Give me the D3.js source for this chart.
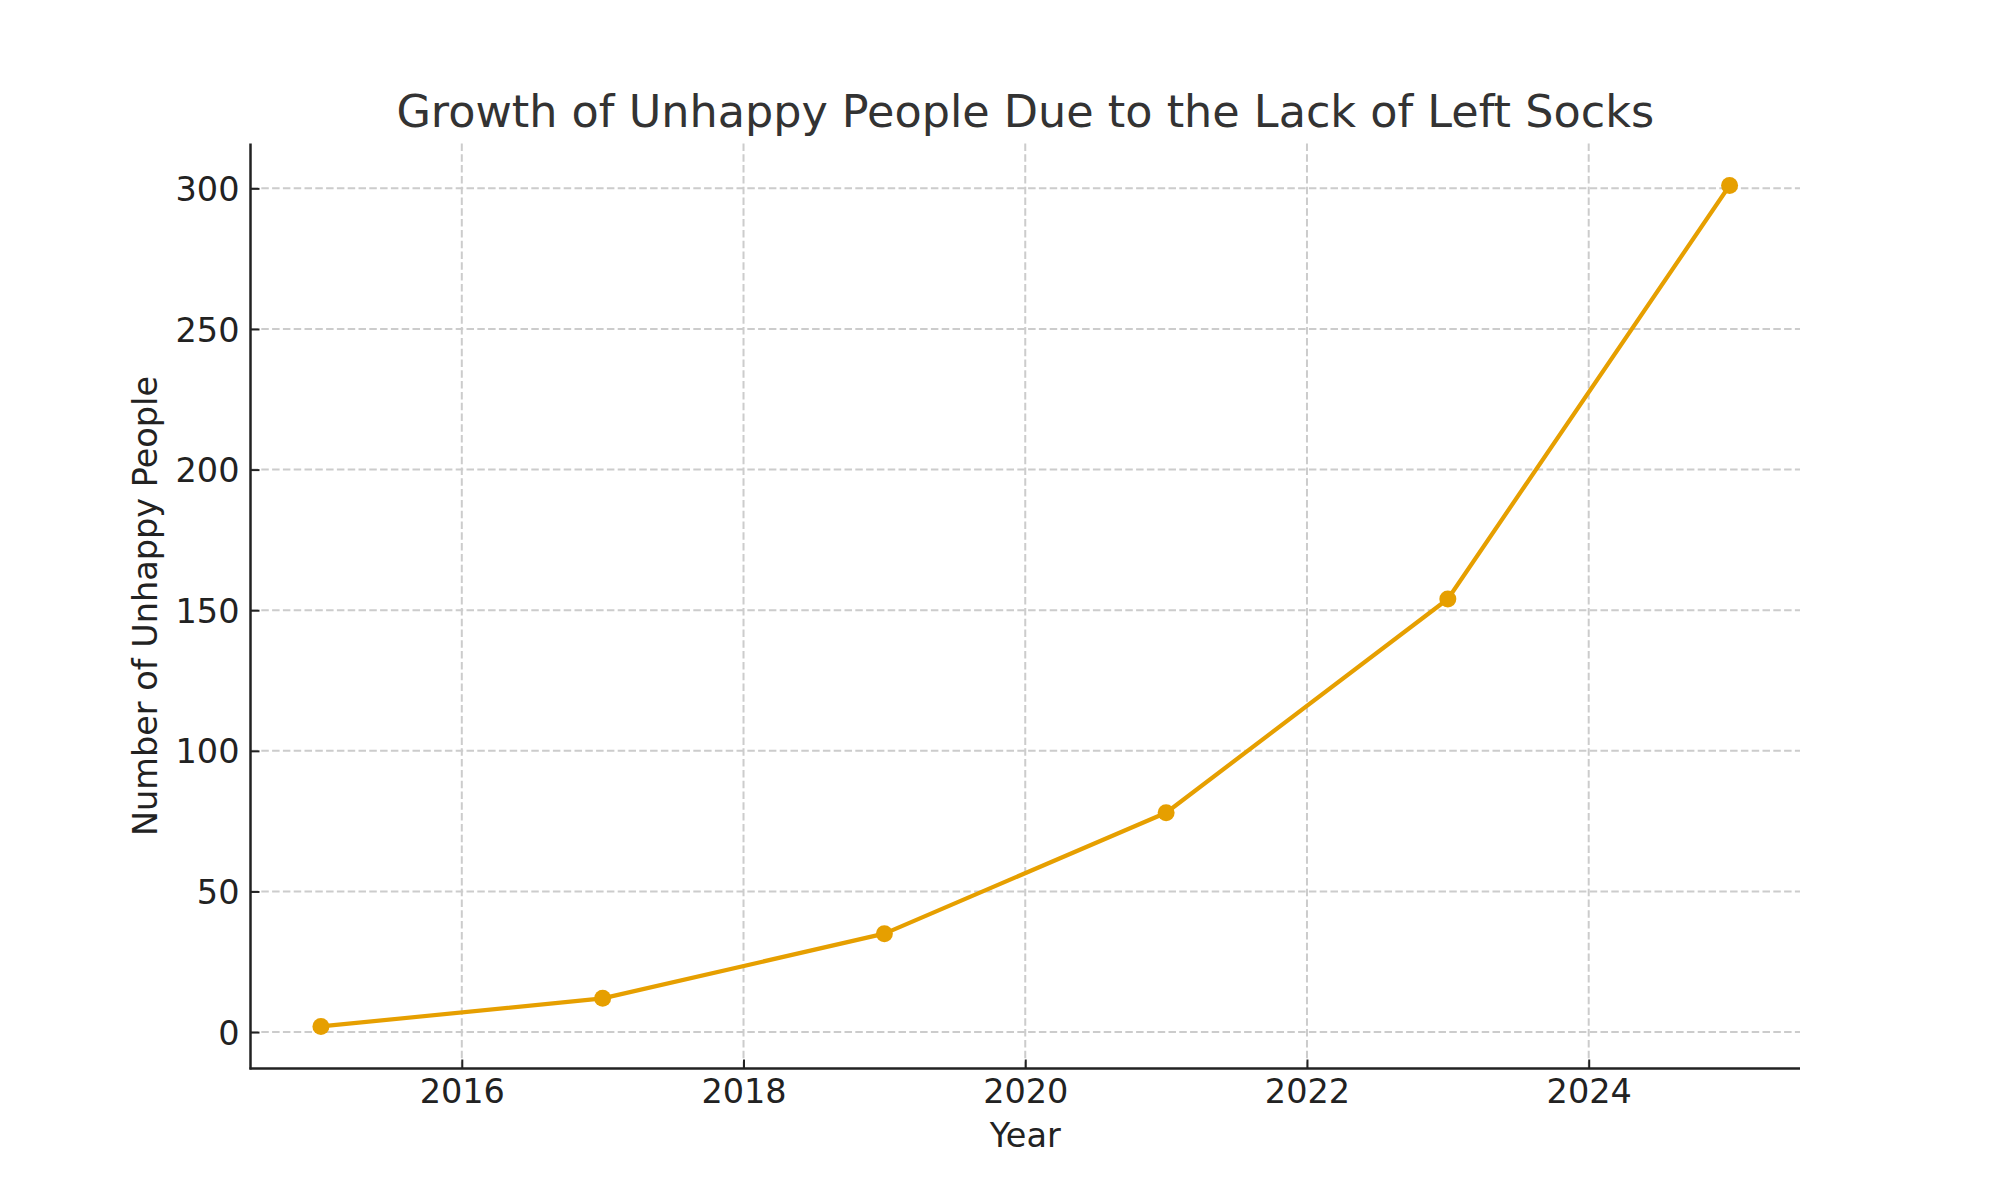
<!DOCTYPE html>
<html>
<head>
<meta charset="utf-8">
<script src="https://cdn.jsdelivr.net/npm/d3@7"></script>
<style>
  body { margin: 0; background: #fff; }
  text { font-family: "DejaVu Sans", sans-serif; }
</style>
</head>
<body>
<div id="chart"></div>
<script>
// data
var years = [2015, 2017, 2019, 2021, 2023, 2025];
var unhappy = [2, 12, 35, 78, 154, 301];
var xTicks = [2016, 2018, 2020, 2022, 2024];
var yTicks = [0, 50, 100, 150, 200, 250, 300];

var svgWidth = 2000;
var svgHeight = 1200;

var margin = { top: 143.5, right: 200, bottom: 131.5, left: 250.5 };
var width = svgWidth - margin.left - margin.right;
var height = svgHeight - margin.top - margin.bottom;

var lineColor = "#E69F00";

var svg = d3.select("#chart")
  .append("svg")
  .attr("width", svgWidth)
  .attr("height", svgHeight);

var chartGroup = svg.append("g")
  .attr("transform", `translate(${margin.left}, ${margin.top})`);

var points = years.map(function(y, i) { return { year: y, value: unhappy[i] }; });

// matplotlib style 5% margins
var xPad = (d3.max(years) - d3.min(years)) * 0.05;
var yPad = (d3.max(unhappy) - d3.min(unhappy)) * 0.05;

var xScale = d3.scaleLinear()
  .domain([d3.min(years) - xPad, d3.max(years) + xPad])
  .range([0, width]);

var yScale = d3.scaleLinear()
  .domain([d3.min(unhappy) - yPad, d3.max(unhappy) + yPad])
  .range([height, 0]);

// grid
chartGroup.append("g").selectAll("line")
  .data(xTicks)
  .enter()
  .append("line")
  .attr("x1", d => xScale(d))
  .attr("x2", d => xScale(d))
  .attr("y1", 0)
  .attr("y2", height)
  .attr("stroke", "#cccccc")
  .attr("stroke-width", 2)
  .attr("stroke-dasharray", "7.5,3.3");

chartGroup.append("g").selectAll("line")
  .data(yTicks)
  .enter()
  .append("line")
  .attr("x1", 0)
  .attr("x2", width)
  .attr("y1", d => yScale(d))
  .attr("y2", d => yScale(d))
  .attr("stroke", "#cccccc")
  .attr("stroke-width", 2)
  .attr("stroke-dasharray", "7.5,3.3");

// line + markers
var line = d3.line()
  .x(d => xScale(d.year))
  .y(d => yScale(d.value));

chartGroup.append("path")
  .datum(points)
  .attr("d", line)
  .attr("fill", "none")
  .attr("stroke", lineColor)
  .attr("stroke-width", 4.2)
  .attr("stroke-linejoin", "round");

chartGroup.selectAll("circle")
  .data(points)
  .enter()
  .append("circle")
  .attr("cx", d => xScale(d.year))
  .attr("cy", d => yScale(d.value))
  .attr("r", 8.5)
  .attr("fill", lineColor);

// axes, ticks point inward
var bottomAxis = d3.axisBottom(xScale)
  .tickValues(xTicks)
  .tickFormat(d3.format("d"))
  .tickSize(-9)
  .tickPadding(11);

var leftAxis = d3.axisLeft(yScale)
  .tickValues(yTicks)
  .tickSize(-9)
  .tickPadding(11);

var xAxisG = chartGroup.append("g")
  .attr("transform", `translate(0, ${height})`)
  .call(bottomAxis);

var yAxisG = chartGroup.append("g")
  .call(leftAxis);

[xAxisG, yAxisG].forEach(function(g) {
  g.select(".domain").remove();
  g.selectAll(".tick line").attr("stroke", "#222").attr("stroke-width", 2);
  g.selectAll(".tick text")
    .attr("fill", "#222")
    .style("font-size", "33.5px")
    .style("font-family", "DejaVu Sans");
});
yAxisG.selectAll(".tick text").attr("dy", "0.36em");

// spines
chartGroup.append("line")
  .attr("x1", 0).attr("x2", 0)
  .attr("y1", 0).attr("y2", height + 1)
  .attr("stroke", "#222").attr("stroke-width", 2.5);

chartGroup.append("line")
  .attr("x1", -1).attr("x2", width)
  .attr("y1", height).attr("y2", height)
  .attr("stroke", "#222").attr("stroke-width", 2.5);

// labels
svg.append("text")
  .attr("x", margin.left + width / 2)
  .attr("y", 127)
  .attr("text-anchor", "middle")
  .style("font-size", "44.5px")
  .style("fill", "#333")
  .text("Growth of Unhappy People Due to the Lack of Left Socks");

svg.append("text")
  .attr("x", margin.left + width / 2)
  .attr("y", 1147)
  .attr("text-anchor", "middle")
  .style("font-size", "33.5px")
  .style("fill", "#222")
  .text("Year");

svg.append("text")
  .attr("transform", `translate(157, ${margin.top + height / 2}) rotate(-90)`)
  .attr("text-anchor", "middle")
  .style("font-size", "33.5px")
  .style("fill", "#222")
  .text("Number of Unhappy People");
</script>
</body>
</html>
